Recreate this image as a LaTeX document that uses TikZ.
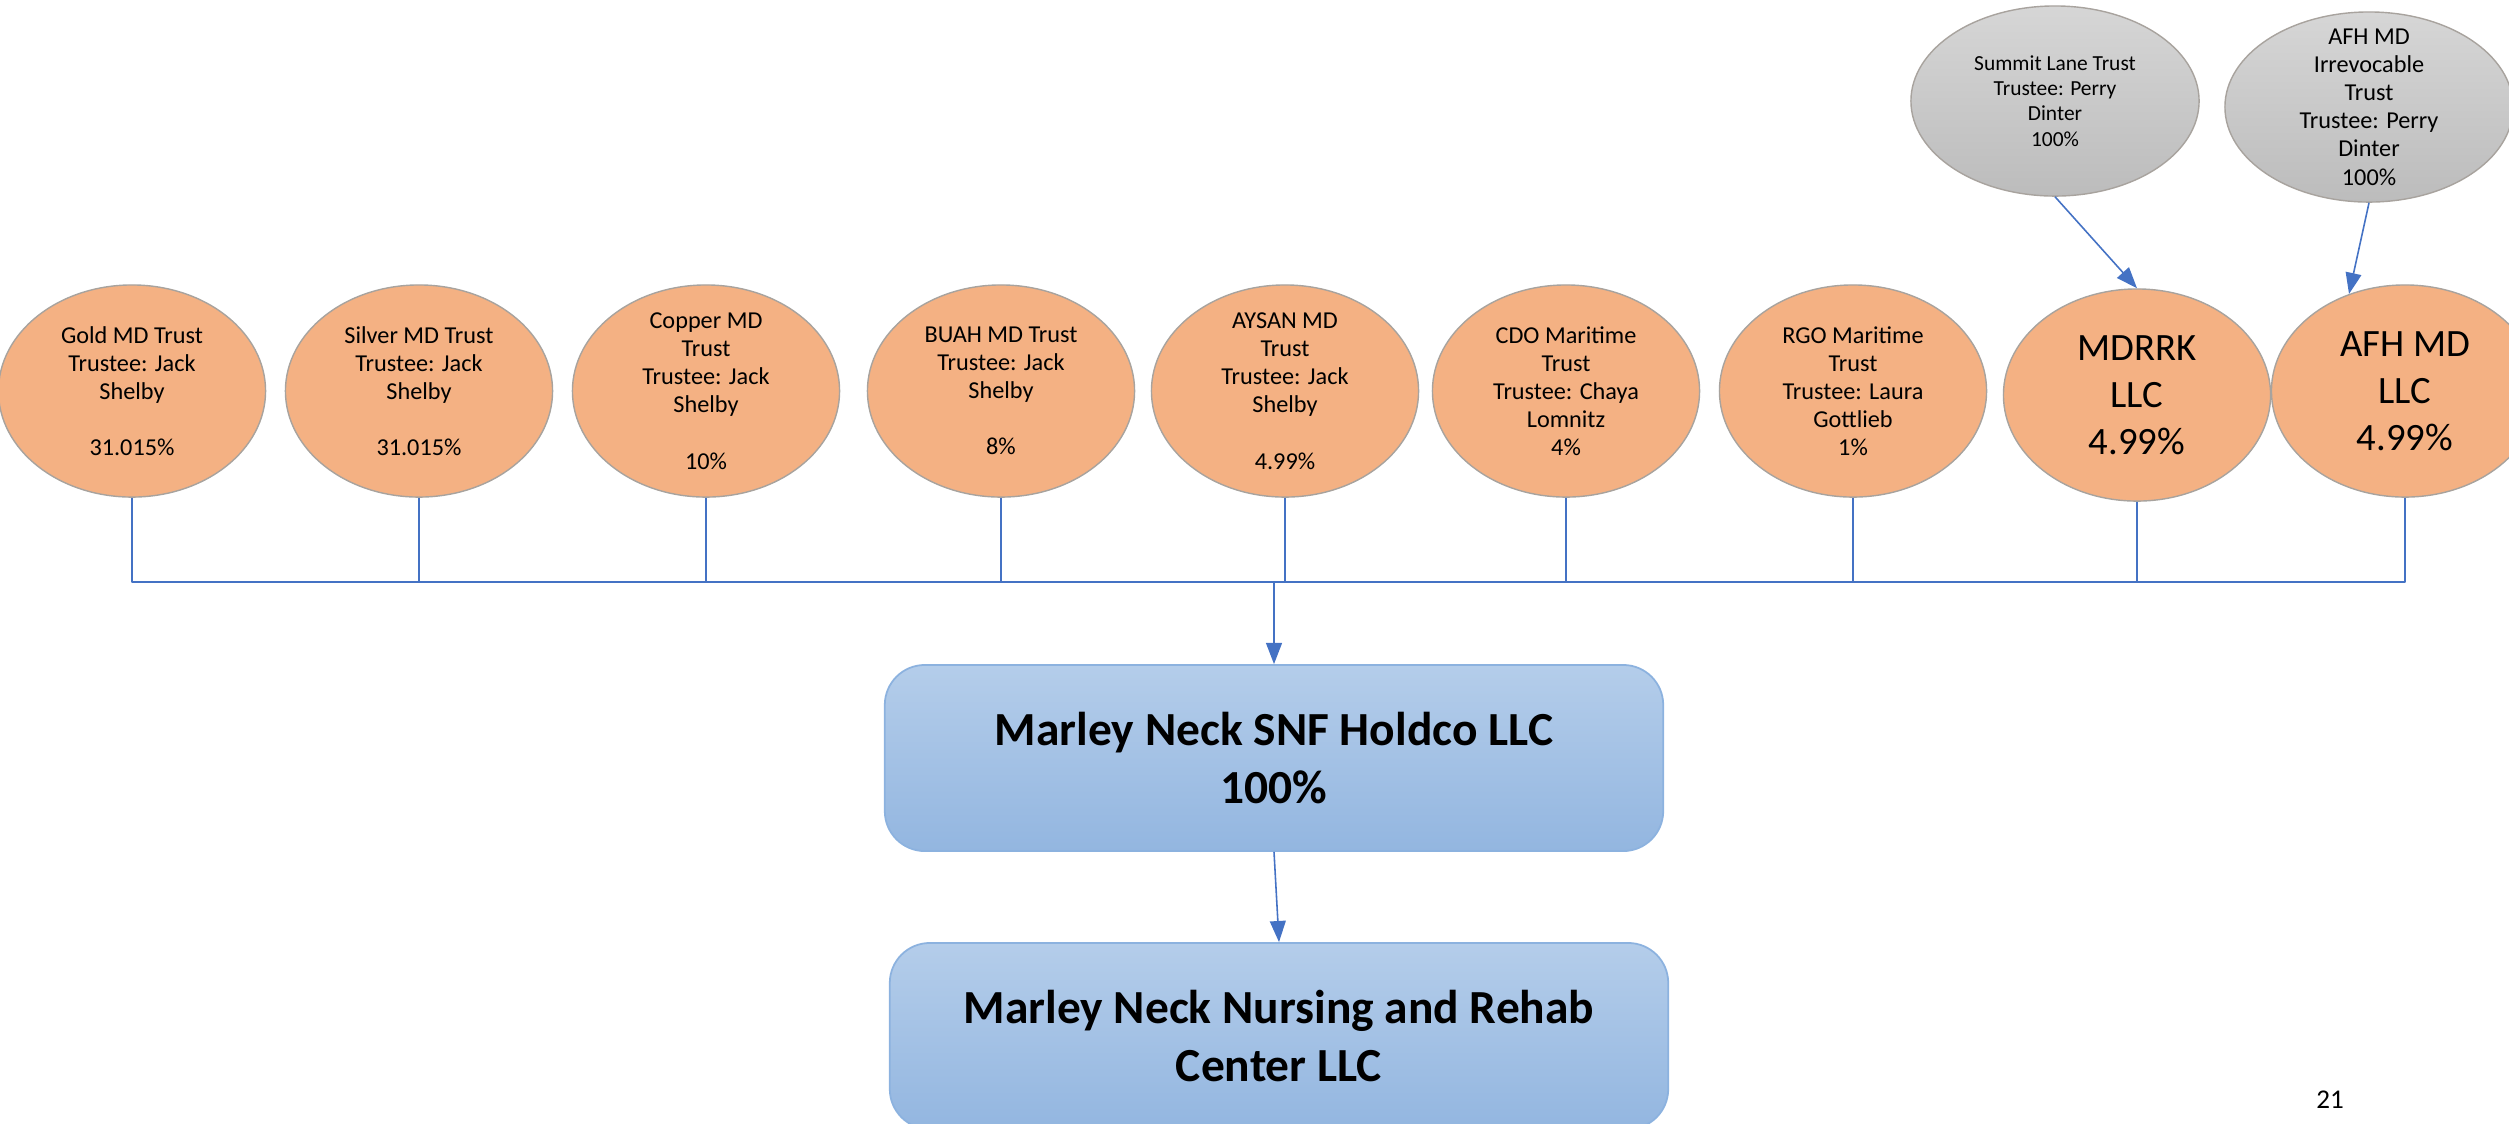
\documentclass[tikz,border=0pt]{standalone}
\usepackage{fontspec}
\setmainfont{Carlito}
\usetikzlibrary{shapes.geometric,arrows.meta}
\definecolor{trustfill}{HTML}{F4B183}
\definecolor{trustline}{HTML}{A8A39E}
\definecolor{greytop}{HTML}{D6D6D6}
\definecolor{greybot}{HTML}{BCBCBC}
\definecolor{boxtop}{HTML}{B4CDEA}
\definecolor{boxbot}{HTML}{93B6E0}
\definecolor{boxline}{HTML}{8CB2DF}
\definecolor{linkblue}{HTML}{4472C4}
\begin{document}
\begin{tikzpicture}[x=0.01cm, y=-0.01cm, line join=round,
	trust/.style={ellipse, draw=trustline, line width=0.4pt, fill=trustfill, minimum width=2.67cm, minimum height=2.12cm, inner sep=0pt},
	grantor/.style={ellipse, draw=trustline, line width=0.4pt, top color=greytop, bottom color=greybot, minimum width=2.88cm, minimum height=1.9cm, inner sep=0pt},
	ttext/.style={align=center, inner sep=0pt, font=\fontsize{6.9}{8}\selectfont},
	ltext/.style={align=center, inner sep=0pt, font=\fontsize{11}{13.4}\selectfont},
	stext/.style={align=center, inner sep=0pt, font=\fontsize{6.1}{7.2}\selectfont},
	entity/.style={rectangle, rounded corners=0.4cm, draw=boxline, line width=0.5pt, top color=boxtop, bottom color=boxbot, minimum width=7.78cm, minimum height=1.86cm, align=center, font=\fontsize{13.5}{16.5}\selectfont\bfseries},
	link/.style={draw=linkblue, line width=0.45pt},
	arrow/.style={link, -{Triangle[length=6pt,width=4.5pt]}}]
	\useasboundingbox (0,0) rectangle (2509,1123);
	% owners
	\node[trust, label={[ttext]center:{Gold MD Trust\\Trustee: Jack\\Shelby\\[8pt]31.015\%}}] (gold) at (132,391) {};
	\node[trust, label={[ttext]center:{Silver MD Trust\\Trustee: Jack\\Shelby\\[8pt]31.015\%}}] (silver) at (419,391) {};
	\node[trust, label={[ttext]center:{Copper MD\\Trust\\Trustee: Jack\\Shelby\\[8pt]10\%}}] (copper) at (706,391) {};
	\node[trust, label={[ttext]center:{BUAH MD Trust\\Trustee: Jack\\Shelby\\[8pt]8\%}}] (buah) at (1001,391) {};
	\node[trust, label={[ttext]center:{AYSAN MD\\Trust\\Trustee: Jack\\Shelby\\[8pt]4.99\%}}] (aysan) at (1285,391) {};
	\node[trust, label={[ttext]center:{CDO Maritime\\Trust\\Trustee: Chaya\\Lomnitz\\4\%}}] (cdo) at (1566,391) {};
	\node[trust, label={[ttext]center:{RGO Maritime\\Trust\\Trustee: Laura\\Gottlieb\\1\%}}] (rgo) at (1853,391) {};
	\node[trust, label={[ltext]center:{MDRRK\\LLC\\4.99\%}}] (mdrrk) at (2137,395) {};
	\node[trust, label={[ltext]center:{AFH MD\\LLC\\4.99\%}}] (afhllc) at (2405,391) {};
	% trusts above the LLCs
	\node[grantor, label={[stext]center:{Summit Lane Trust\\Trustee: Perry\\Dinter\\100\%}}] (summit) at (2055,101) {};
	\node[grantor, label={[ttext]center:{AFH MD\\Irrevocable\\Trust\\Trustee: Perry\\Dinter\\100\%}}] (afhirr) at (2369,107) {};
	\draw[arrow] (summit.south) -- (mdrrk.north);
	\draw[arrow] (afhirr.south) -- (afhllc.120);
	% companies
	\node[entity] (holdco) at (1274,758) {Marley Neck SNF Holdco LLC\\100\%};
	\node[entity] (rehab) at (1279,1036) {Marley Neck Nursing and Rehab\\Center LLC};
	\coordinate (bus) at (1274,582);
	\foreach \n in {gold,silver,copper,buah,aysan,cdo,rgo,mdrrk,afhllc}
		\draw[link] (\n.south) |- (bus);
	\draw[arrow] (bus) -- (holdco.north);
	\draw[arrow] (holdco.south) -- (rehab.north);
	\node[font=\fontsize{7.7}{9}\selectfont] (page) at (2330,1100) {21};
\end{tikzpicture}
\end{document}
